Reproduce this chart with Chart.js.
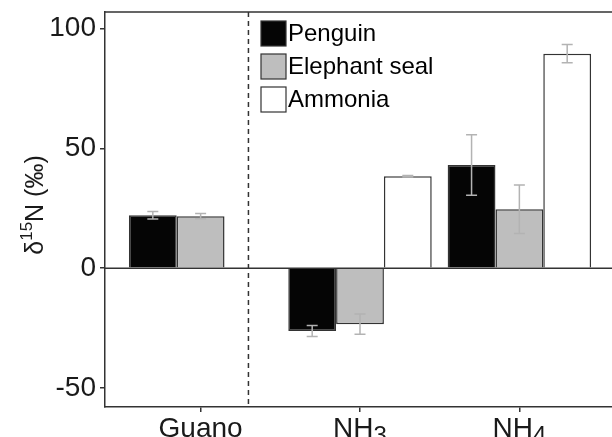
<!DOCTYPE html>
<html>
<head>
<meta charset="utf-8">
<script src="https://cdn.jsdelivr.net/npm/chart.js@4.4.0/dist/chart.umd.min.js"></script>
<style>
html, body { margin: 0; padding: 0; background: #fff; overflow: hidden; }
#wrap { width: 616px; height: 437px; }
</style>
</head>
<body>
<div id="wrap"><canvas id="chart"></canvas></div>
<script>
// Values
var categories = ['Guano', 'NH3', 'NH4'];   // trailing digit is drawn as a subscript
var penguin = [22.1, -26.3, 43.1];
var penguinErr = [1.6, 2.3, 12.6];
var seal = [21.7, -23.4, 24.6];
var sealErr = [1.1, 4.2, 10.1];
var ammonia = [null, 38.4, 89.6];
var ammoniaErr = [null, 0.3, 3.8];
var yTicks = [-50, 0, 50, 100];
var dividerAt = 1.3;   // dashed separator between guano and the solutions

var FONT = "'Liberation Sans', Arial, sans-serif";
var INK = '#333333';

function points(values) {
    return values.map(function(v, i) { return {x: i + 1, y: v}; });
}

// draws a run of [text, font, dy] pieces centred on x
function drawPieces(ctx, parts, x, y) {
    var w = 0;
    parts.forEach(function(p) { ctx.font = p[1]; w += ctx.measureText(p[0]).width; });
    var cx = x - w / 2;
    parts.forEach(function(p) {
        ctx.font = p[1];
        ctx.fillText(p[0], cx, y + p[2]);
        cx += ctx.measureText(p[0]).width;
    });
}

/**
 * Draws error bars, zero line, divider, panel top, legend and axis texts.
 */
var decorations = {
    id: 'decorations',
    afterDatasetsDraw: function(chart) {
        var ctx = chart.ctx;
        var area = chart.chartArea;
        var xs = chart.scales.x;
        var ys = chart.scales.y;

        // error bars
        ctx.save();
        ctx.strokeStyle = '#b3b3b3';
        ctx.lineWidth = 1.5;
        chart.data.datasets.forEach(function(ds, di) {
            var meta = chart.getDatasetMeta(di);
            meta.data.forEach(function(bar, i) {
                var v = ds.data[i].y;
                var e = ds.err[i];
                if (v === null || e === null) return;
                var top = ys.getPixelForValue(v + e);
                var bot = ys.getPixelForValue(v - e);
                ctx.beginPath();
                ctx.moveTo(bar.x, top); ctx.lineTo(bar.x, bot);
                ctx.moveTo(bar.x - 5.5, top); ctx.lineTo(bar.x + 5.5, top);
                ctx.moveTo(bar.x - 5.5, bot); ctx.lineTo(bar.x + 5.5, bot);
                ctx.stroke();
            });
        });
        ctx.restore();

        // zero line
        ctx.save();
        ctx.strokeStyle = INK;
        ctx.lineWidth = 1.5;
        var y0 = ys.getPixelForValue(0);
        ctx.beginPath();
        ctx.moveTo(area.left, y0); ctx.lineTo(area.right, y0);
        ctx.stroke();

        // panel top and right
        ctx.beginPath();
        ctx.moveTo(area.left, area.top); ctx.lineTo(area.right, area.top);
        ctx.lineTo(area.right, area.bottom);
        ctx.stroke();

        // dashed divider
        var xd = xs.getPixelForValue(dividerAt);
        ctx.setLineDash([5, 4]);
        ctx.beginPath();
        ctx.moveTo(xd, area.top); ctx.lineTo(xd, area.bottom);
        ctx.stroke();
        ctx.restore();

        // legend
        ctx.save();
        ctx.font = '24px ' + FONT;
        ctx.textBaseline = 'middle';
        chart.data.datasets.forEach(function(ds, di) {
            var bx = 261, by = 21 + di * 33;
            ctx.fillStyle = ds.backgroundColor;
            ctx.fillRect(bx, by, 25, 25);
            ctx.strokeStyle = INK;
            ctx.lineWidth = 1.2;
            ctx.strokeRect(bx, by, 25, 25);
            ctx.fillStyle = '#000';
            ctx.fillText(ds.label, bx + 27, by + 13);
        });
        ctx.restore();

        // x category labels, with chemical subscripts
        ctx.save();
        ctx.fillStyle = '#1a1a1a';
        ctx.textBaseline = 'alphabetic';
        var big28 = '28px ' + FONT, sub = '24px ' + FONT;
        categories.forEach(function(c, i) {
            var m = c.match(/^(.*?)(\d*)$/);
            var parts = [[m[1], big28, 0]];
            if (m[2]) parts.push([m[2], sub, 6]);
            drawPieces(ctx, parts, xs.getPixelForValue(i + 1), area.bottom + 30);
        });
        ctx.restore();

        // y axis title: delta 15 N (permil)
        ctx.save();
        ctx.translate(43, 205);
        ctx.rotate(-Math.PI / 2);
        ctx.fillStyle = '#1a1a1a';
        ctx.textBaseline = 'alphabetic';
        var big = '25px ' + FONT, small = '17px ' + FONT;
        drawPieces(ctx, [['δ', big, 0], ['15', small, -11], ['N (‰)', big, 0]], 0, 0);
        ctx.restore();
    }
};

new Chart(document.getElementById('chart'), {
    type: 'bar',
    data: {
        datasets: [
            {label: 'Penguin', data: points(penguin), err: penguinErr,
             backgroundColor: '#050505', borderColor: INK, borderWidth: 1.5},
            {label: 'Elephant seal', data: points(seal), err: sealErr,
             backgroundColor: '#bebebe', borderColor: INK, borderWidth: 1.5},
            {label: 'Ammonia', data: points(ammonia), err: ammoniaErr,
             backgroundColor: '#ffffff', borderColor: INK, borderWidth: 1.5}
        ]
    },
    options: {
        responsive: true,
        maintainAspectRatio: false,
        animation: false,
        categoryPercentage: 0.9,
        barPercentage: 1.0,
        layout: {padding: {top: 12, right: 1, left: 0, bottom: 0}},
        plugins: {legend: {display: false}, tooltip: {enabled: false}},
        scales: {
            x: {
                type: 'linear',
                min: 0.4,
                max: 3.6,
                offset: false,
                afterBuildTicks: function(s) { s.ticks = [1, 2, 3].map(function(v) { return {value: v}; }); },
                afterFit: function(s) { s.height = 30; s.paddingLeft = 0; s.paddingRight = 0; },
                ticks: {display: false},
                grid: {display: true, drawOnChartArea: false, offset: false, tickLength: 5, color: INK, lineWidth: 1.5},
                border: {display: true, color: INK, width: 1.5}
            },
            y: {
                min: -58,
                max: 107,
                afterBuildTicks: function(s) { s.ticks = yTicks.map(function(v) { return {value: v}; }); },
                afterFit: function(s) { s.width = 105; s.paddingTop = 0; s.paddingBottom = 0; },
                ticks: {
                    font: {family: FONT, size: 28},
                    color: '#1a1a1a',
                    padding: 4
                },
                grid: {display: true, drawOnChartArea: false, tickLength: 5, color: INK, lineWidth: 1.5},
                border: {display: true, color: INK, width: 1.5}
            }
        }
    },
    plugins: [decorations]
});
</script>
</body>
</html>
